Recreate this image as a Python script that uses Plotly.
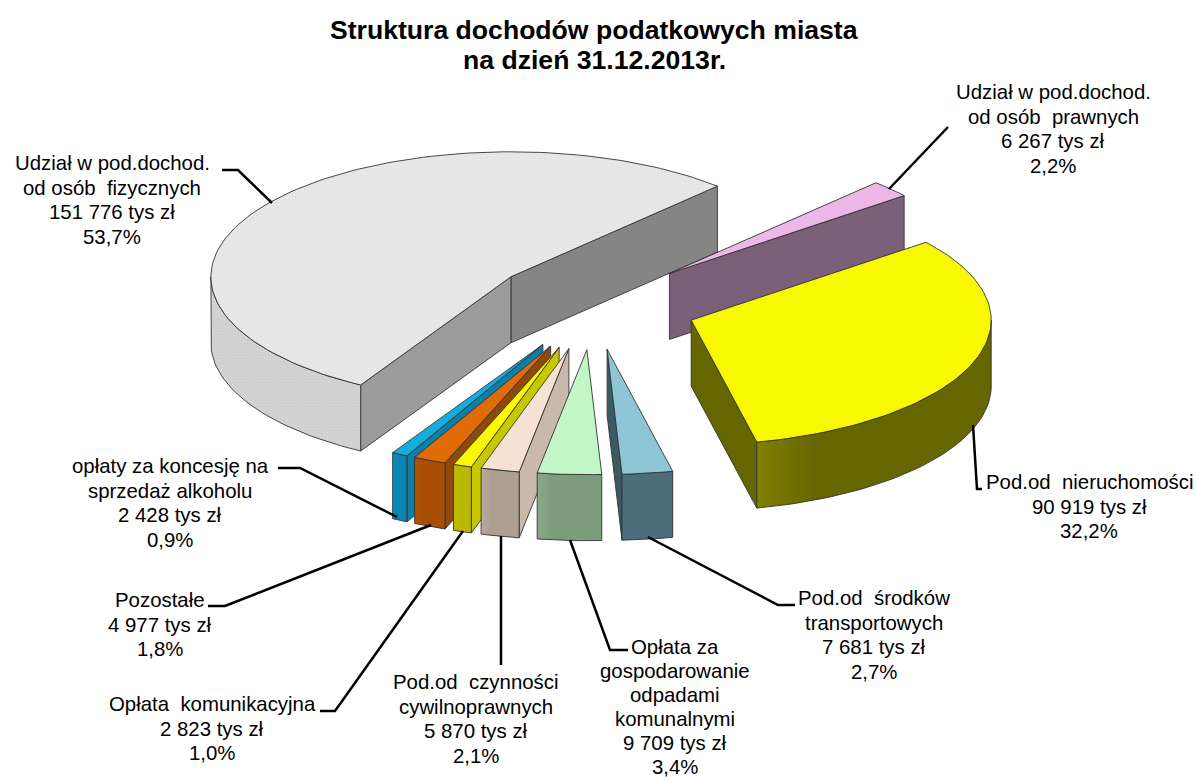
import math
import plotly.graph_objects as go

# ---- data (clockwise, starting from the first slice after the big one)
names = ["Udział w pod.dochod.<br>od osób  prawnych", "Pod.od  nieruchomości",
         "Pod.od  środków<br>transportowych", "Opłata za<br>gospodarowanie<br>odpadami<br>komunalnymi",
         "Pod.od  czynności<br>cywilnoprawnych", "Opłata  komunikacyjna", "Pozostałe",
         "opłaty za koncesję na<br>sprzedaż alkoholu", "Udział w pod.dochod.<br>od osób  fizycznych"]
values = [6267, 90919, 7681, 9709, 5870, 2823, 4977, 2428, 151776]
value_labels = ["6 267", "90 919", "7 681", "9 709", "5 870", "2 823", "4 977", "2 428", "151 776"]
percents = ["2,2%", "32,2%", "2,7%", "3,4%", "2,1%", "1,0%", "1,8%", "0,9%", "53,7%"]

# ---- styles: top, outer wall (left, right), cut face
top_colors = ["#ecb8e8", "#f8f800", "#8fc6d6", "#c2f6c6", "#f5e2d2", "#f8f800", "#e06c08", "#12aee0", "#e6e6e6"]
outer_colors = [("#7c5f78", "#7c5f78"), ("#808000", "#666600"), ("#4a6e7c", "#4a6e7c"), ("#88a888", "#7c9c7c"),
                ("#b8aa9c", "#ad9f91"), ("#c0c000", "#b8b800"), ("#b45408", "#a84e06"), ("#0a8fc0", "#0a86b4"), ("#cfcfcf", "#d4d4d4")]
cut_colors = ["#7c5f78", "#666600", "#3c5a64", "#7c9c7c", "#c9b9ab", "#c8c800", "#8f4a0a", "#0c7fa6", "#9c9c9c"]
big_end_cut = "#858585"
explode_px = [105, 102, 105, 105, 105, 105, 105, 105, 105]
nudge_down = [0, 3, 3, 3, 3, 3, 3, 3, 0]
nudge_right = [-3, 0, -2, -2, -2, -2, -2, -2, 0]

START = 43.5
CX, CY = 595.0, 303.0
RX, RY = 300.0, 125.0
DEPTH = 66.0
EDGE = dict(color="#333333", width=0.9)

fig = go.Figure()


def pt(theta, r=1.0, ox=0.0, oy=0.0, dz=0.0):
    t = math.radians(theta)
    return ox + r * RX * math.sin(t), oy - r * RY * math.cos(t) + dz


def poly(points, color=None, gradient=None, pattern=None):
    xs = [p[0] for p in points] + [points[0][0]]
    ys = [p[1] for p in points] + [points[0][1]]
    kw = {}
    if gradient:
        kw["fillgradient"] = dict(type="horizontal", colorscale=[[0, gradient[0]], [0.25, gradient[1]], [1, gradient[1]]])
    if pattern:
        kw["fillpattern"] = pattern
    fig.add_trace(go.Scatter(x=xs, y=ys, mode="lines", fill="toself", fillcolor=color, line=EDGE,
                             hoverinfo="skip", showlegend=False, **kw))


def arc(a, b, ox, oy, dz=0.0, n=None):
    n = n or max(3, int(abs(b - a) / 1.5))
    return [pt(a + (b - a) * i / n, 1.0, ox, oy, dz) for i in range(n + 1)]


total = sum(values)
spans = []
a = START
for v in values:
    b = a + v / total * 360.0
    spans.append((a, b))
    a = b

draw_order = [8, 0, 1, 7, 6, 5, 4, 3, 2]
for i in draw_order:
    a, b = spans[i]
    mid = math.radians((a + b) / 2)
    ox = CX + explode_px[i] * math.sin(mid) + nudge_right[i]
    oy = CY - explode_px[i] * RY / RX * math.cos(mid) + nudge_down[i]
    # cut faces
    if math.sin(math.radians(b)) > 0:
        p = pt(b, 1, ox, oy)
        col = big_end_cut if i == 8 else cut_colors[i]
        poly([(ox, oy), p, (p[0], p[1] + DEPTH), (ox, oy + DEPTH)], col)
    if math.sin(math.radians(a)) < 0:
        p = pt(a, 1, ox, oy)
        poly([(ox, oy), p, (p[0], p[1] + DEPTH), (ox, oy + DEPTH)], cut_colors[i])
    # outer wall (front half only)
    lo = max(a, 90.0)
    hi = min(b, 270.0)
    if hi > lo:
        up = arc(lo, hi, ox, oy)
        down = arc(hi, lo, ox, oy, DEPTH)
        if i == 8:
            poly(up + down, "#d2d2d2", pattern=dict(shape=".", size=3, solidity=0.3, fgcolor="#c4c4c4", bgcolor="#d4d4d4"))
        else:
            poly(up + down, outer_colors[i][0], gradient=outer_colors[i])
    # top face
    pattern = dict(shape=".", size=3, solidity=0.3, fgcolor="#dcdcdc", bgcolor="#e8e8e8") if i == 8 else None
    poly([(ox, oy)] + arc(a, b, ox, oy), top_colors[i], pattern=pattern)

# ---- leader lines (layout furniture)
leaders = [
    [(889, 189), (948, 127)],
    [(973, 425), (977, 489), (982, 489)],
    [(648, 537), (778, 605), (795, 605)],
    [(570, 540), (610, 650), (628, 650)],
    [(501, 536), (501, 665)],
    [(463, 531), (335, 711), (320, 711)],
    [(431, 525), (225, 606), (208, 606)],
    [(397, 517), (300, 468), (278, 468)],
    [(272, 203), (238, 170), (222, 170)],
]
for seg in leaders:
    fig.add_trace(go.Scatter(x=[p[0] for p in seg], y=[p[1] for p in seg], mode="lines",
                             line=dict(color="black", width=2.5), hoverinfo="skip", showlegend=False))

# ---- labels: centre x, centre y of first line, line step
label_pos = [(1053, 92), (1089, 482), (874, 598), (675, 647), (476, 682), (212, 704), (160, 600), (170, 466), (112, 163)]
line_step = [24.5, 24.5, 24.5, 24.0, 24.5, 24.5, 24.5, 24.5, 24.5]
annotations = []
for i, (x, y) in enumerate(label_pos):
    lines = names[i].split("<br>") + [f"{value_labels[i]} tys zł", percents[i]]
    for k, line in enumerate(lines):
        annotations.append(dict(x=x, y=y + k * line_step[i], xref="x", yref="y", xanchor="center", yanchor="middle",
                                showarrow=False, align="center", text=line,
                                font=dict(family="Liberation Sans", size=20.4, color="black")))
for line, y in zip(["Struktura dochodów podatkowych miasta", "na dzień 31.12.2013r."], [30, 60]):
    annotations.append(dict(x=594, y=y, xref="x", yref="y", xanchor="center", yanchor="middle", showarrow=False,
                            align="center", text=f"<b>{line}</b>",
                            font=dict(family="Liberation Sans", size=26.6, color="black")))

fig.update_layout(width=1196, height=781, margin=dict(l=0, r=0, t=0, b=0), paper_bgcolor="white",
                  plot_bgcolor="white", annotations=annotations, showlegend=False,
                  xaxis=dict(range=[0, 1196], visible=False, fixedrange=True),
                  yaxis=dict(range=[781, 0], visible=False, fixedrange=True))
fig.write_html("out.html", config=dict(displayModeBar=False),
               post_script="document.body.style.margin='0';document.body.style.overflow='hidden';")
